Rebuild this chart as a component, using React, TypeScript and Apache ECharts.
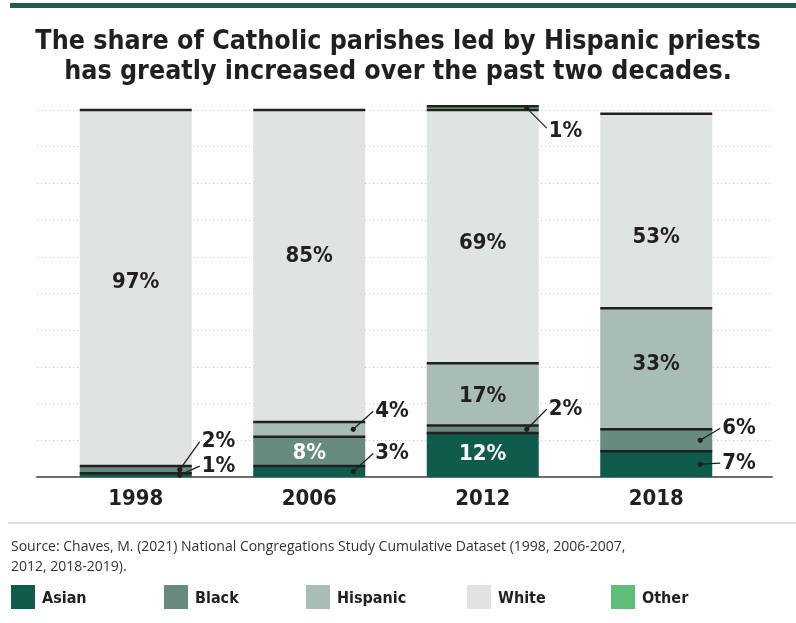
import { useEffect, useRef } from "react";
import * as echarts from "echarts";

const years = ["1998", "2006", "2012", "2018"];
const groupNames = ["Asian", "Black", "Hispanic", "White", "Other"];
const asian = [1, 3, 12, 7];
const black = [2, 8, 2, 6];
const hispanic = [0, 4, 17, 33];
const white = [97, 85, 69, 53];
const other = [0, 0, 1, 0];
const gridTicks = [0, 10, 20, 30, 40, 50, 60, 70, 80, 90, 100];

const groupColors = ["#0f5b4c", "#678a81", "#a7bdb6", "#dfe3e1", "#60bd78"];
const FONT = '"Liberation Sans Narrow", "DejaVu Sans Condensed", Roboto, sans-serif';
const BODY_FONT = '"Open Sans", "Liberation Sans", sans-serif';
const INK = "#231f20";
const BAR_W = 112;

export default function App() {
  const ref = useRef<HTMLDivElement>(null);

  useEffect(() => {
    const el = ref.current;
    if (!el) return;
    const chart = echarts.init(el, null, { renderer: "svg" });
    const groupValues = [asian, black, hispanic, white, other];

    // segments labelled inside the bar: group, year, text colour, vertical nudge
    const inside: [number, number, string, number][] = [
      [3, 0, INK, -7],
      [3, 1, INK, -11],
      [3, 2, INK, 5],
      [3, 3, INK, 25],
      [2, 2, INK, 0],
      [2, 3, INK, -6],
      [1, 1, "#ffffff", 0],
      [0, 2, "#ffffff", -2],
    ];
    // segments labelled beside the bar with a leader line: group, year, label offset
    const callouts: [number, number, number][] = [
      [1, 0, -30],
      [0, 0, -11],
      [2, 1, -20],
      [0, 1, -20],
      [4, 2, 21],
      [1, 2, -22],
      [1, 3, -14],
      [0, 3, -3],
    ];

    const series = groupNames.map((name, g) => ({
      name,
      type: "bar",
      stack: "total",
      xAxisIndex: 1,
      yAxisIndex: 1,
      barWidth: BAR_W,
      clip: false,
      itemStyle: { color: groupColors[g] },
      data: groupValues[g].map((v, i) => {
        const hit = inside.find((d) => d[0] === g && d[1] === i);
        return {
          value: v,
          label: hit
            ? {
                show: true,
                position: "inside",
                formatter: "{c}%",
                color: hit[2],
                fontFamily: FONT,
                fontWeight: "bold",
                fontSize: 22,
                offset: [0, hit[3]],
              }
            : { show: false },
        };
      }),
    }));

    chart.setOption({
      animation: false,
      title: {
        text: "The share of Catholic parishes led by Hispanic priests\nhas greatly increased over the past two decades.",
        left: "center",
        top: 19,
        textStyle: {
          fontFamily: FONT,
          fontWeight: "bold",
          fontSize: 26.6,
          lineHeight: 30,
          color: INK,
        },
      },
      grid: [
        { left: 37, right: 24, top: 110, bottom: 146 },
        { left: 49, right: 53, top: 110, bottom: 146 },
      ],
      xAxis: [
        {
          type: "value",
          gridIndex: 0,
          min: 0,
          max: 1,
          axisLine: { show: true, onZero: false, lineStyle: { color: "#6d6d6d", width: 2 } },
          axisTick: { show: false },
          axisLabel: { show: false },
          splitLine: { show: false },
        },
        {
          type: "category",
          gridIndex: 1,
          data: years,
          axisLine: { show: false },
          axisTick: { show: false },
          axisLabel: {
            margin: 9,
            color: INK,
            fontFamily: FONT,
            fontWeight: "bold",
            fontSize: 22,
          },
        },
      ],
      yAxis: [
        {
          type: "value",
          gridIndex: 0,
          min: gridTicks[0],
          max: gridTicks[gridTicks.length - 1],
          interval: gridTicks[1] - gridTicks[0],
          axisLine: { show: false },
          axisTick: { show: false },
          axisLabel: { show: false },
          splitLine: { show: true, lineStyle: { color: "#c4c4c4", type: [1, 3], width: 1 } },
        },
        {
          type: "value",
          gridIndex: 1,
          min: 0,
          max: 100,
          show: false,
          splitLine: { show: false },
        },
      ],
      series,
    });

    const graphics: any[] = [];
    // top rule and bottom divider
    graphics.push({ type: "rect", shape: { x: 10, y: 3, width: 786, height: 5 }, style: { fill: "#1b5d50" }, z: 100 });
    graphics.push({ type: "rect", shape: { x: 8, y: 522, width: 788, height: 2 }, style: { fill: "#dedede" }, z: 100 });

    // dark rule on top of each segment
    years.forEach((_, i) => {
      let cum = 0;
      groupValues.forEach((vals) => {
        if (vals[i] <= 0) return;
        cum += vals[i];
        const [cx, y] = chart.convertToPixel({ gridIndex: 1 }, [i, cum]) as number[];
        graphics.push({
          type: "line",
          shape: { x1: cx - BAR_W / 2, y1: y, x2: cx + BAR_W / 2, y2: y },
          style: { stroke: INK, lineWidth: 2.5 },
          z: 100,
        });
      });
    });

    // leader-line labels
    callouts.forEach(([g, i, dy]) => {
      let base = 0;
      for (let k = 0; k < g; k++) base += groupValues[k][i];
      const v = groupValues[g][i];
      const [cx, py] = chart.convertToPixel({ gridIndex: 1 }, [i, base + v / 2]) as number[];
      const right = cx + BAR_W / 2;
      const dotX = right - 12;
      const ly = py + dy;
      graphics.push({ type: "circle", shape: { cx: dotX, cy: py, r: 2.6 }, style: { fill: INK }, z: 110 });
      graphics.push({
        type: "line",
        shape: { x1: dotX, y1: py, x2: right + 8, y2: ly + (dy < 0 ? 2 : -1) },
        style: { stroke: INK, lineWidth: 1.3 },
        z: 110,
      });
      graphics.push({
        type: "text",
        x: right + 10,
        y: ly,
        style: {
          text: `${v}%`,
          fill: INK,
          font: `bold 22px ${FONT}`,
          textAlign: "left",
          textVerticalAlign: "middle",
        },
        z: 110,
      });
    });

    // source note
    graphics.push({
      type: "text",
      x: 11,
      y: 535,
      style: {
        text: "Source: Chaves, M. (2021) National Congregations Study Cumulative Dataset (1998, 2006-2007,\n2012, 2018-2019).",
        fill: "#333333",
        font: `14px ${BODY_FONT}`,
        lineHeight: 20,
        textVerticalAlign: "top",
      },
      z: 100,
    });

    // legend
    const legendX = [11, 164, 306, 467, 611];
    groupNames.forEach((name, g) => {
      graphics.push({ type: "rect", shape: { x: legendX[g], y: 585, width: 24, height: 24 }, style: { fill: groupColors[g] }, z: 100 });
      graphics.push({
        type: "text",
        x: legendX[g] + 31,
        y: 597,
        style: { text: name, fill: INK, font: `bold 16px ${FONT}`, textVerticalAlign: "middle" },
        z: 100,
      });
    });

    chart.setOption({ graphic: graphics });

    return () => chart.dispose();
  }, []);

  return <div ref={ref} style={{ position: "fixed", left: 0, top: 0, width: 796, height: 623 }} />;
}
